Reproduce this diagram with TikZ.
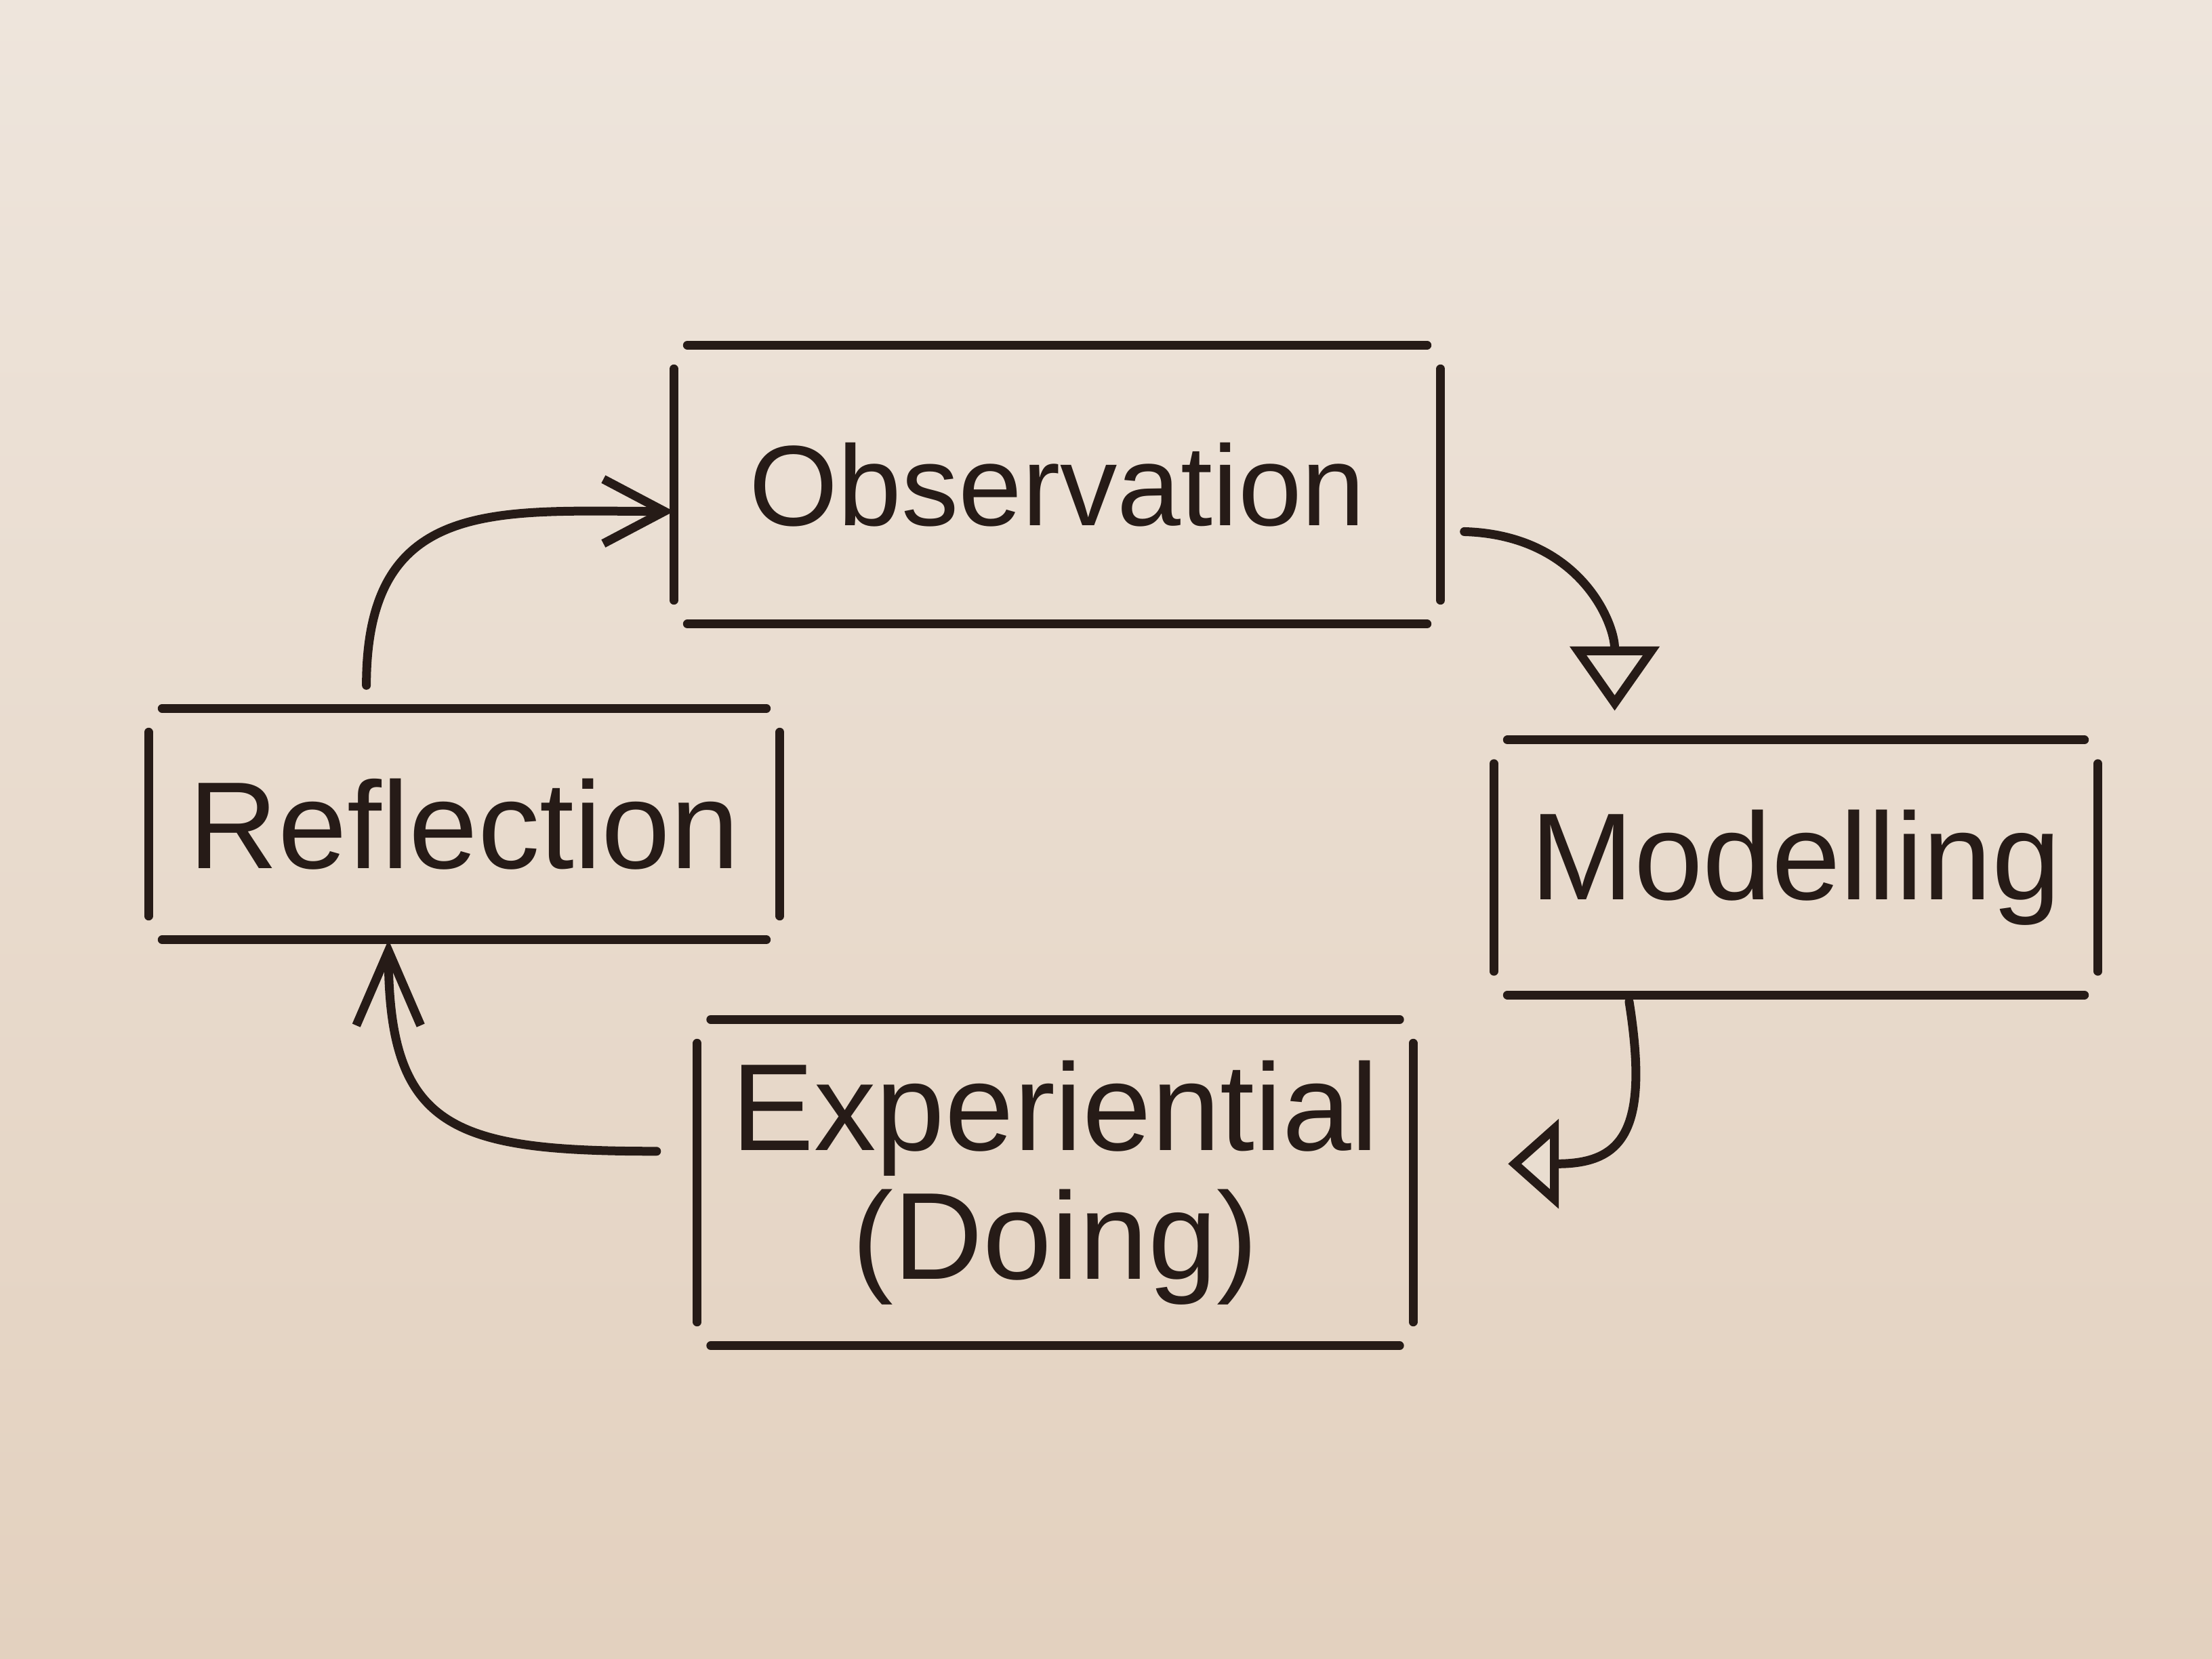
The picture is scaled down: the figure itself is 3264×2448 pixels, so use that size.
\documentclass[tikz,border=0pt]{standalone}
\usepackage{fontspec}
\setmainfont{Liberation Sans}
\usetikzlibrary{arrows.meta,calc}
\definecolor{paper}{HTML}{E9DDD0}
\definecolor{papertop}{HTML}{EEE5DC}
\definecolor{paperbot}{HTML}{E3D1BF}
\definecolor{ink}{HTML}{261B17}
\tikzset{
  pen/.style={line width=1.3mm, draw=ink, line cap=round, line join=round},
  boxnode/.style={inner sep=0pt, align=center, text=ink,
    font=\fontsize{52pt}{54pt}\selectfont},
  barb/.style={-{Straight Barb[length=#1, width=9.5mm, line width=1.3mm]}},
  tri/.style={-{Triangle[open, length=#1, width=13mm, line width=1.3mm, fill=paper]}}
}
\newcommand\handbox[1]{%
  \draw[pen] ([xshift=2mm]#1.north west) -- ([xshift=-2mm]#1.north east);
  \draw[pen] ([xshift=2mm]#1.south west) -- ([xshift=-2mm]#1.south east);
  \draw[pen] ([yshift=-3.5mm]#1.north west) -- ([yshift=3.5mm]#1.south west);
  \draw[pen] ([yshift=-3.5mm]#1.north east) -- ([yshift=3.5mm]#1.south east);
}
\begin{document}
\begin{tikzpicture}[x=0.1mm, y=-0.1mm]
  \shade[top color=papertop, bottom color=paperbot] (0,0) rectangle (3264,2448);
  \useasboundingbox (0,0) rectangle (3264,2448);

  \node[boxnode, minimum width=113mm, minimum height=41mm,
        font=\fontsize{48pt}{54pt}\selectfont] (obs) at (1560,715) {Observation};
  \node[boxnode, minimum width=93mm, minimum height=34mm] (ref) at (685,1216) {Reflection};
  \node[boxnode, minimum width=89mm, minimum height=37.5mm] (mod) at (2650,1280) {Modelling};
  \node[boxnode, minimum width=105.5mm, minimum height=48mm] (exp) at (1557,1745) {Experiential\\(Doing)};

  \handbox{obs}
  \handbox{ref}
  \handbox{mod}
  \handbox{exp}

  % connector end points
  \coordinate (a1s) at ($(ref.north west)!0.345!(ref.north east)+(0,-34)$);
  \coordinate (a1e) at (obs.184);
  \coordinate (a2s) at ($(obs.-7)+(35,0)$);
  \coordinate (a2e) at ($(mod.north west)!0.2!(mod.north east)+(0,-43)$);
  \coordinate (a3s) at ($(mod.south west)!0.224!(mod.south east)+(0,10)$);
  \coordinate (a3e) at ($(exp.3)+(140,0)$);
  \coordinate (a4s) at ($(exp.175)+(-60,0)$);
  \coordinate (a4e) at ($(ref.south west)!0.38!(ref.south east)$);

  \draw[pen, barb=9mm] (a1s) .. controls +(0,-280) and +(-260,0) .. (a1e);
  \draw[pen, tri=9.5mm] (a2s) .. controls +(170,5) and +(0,-130) .. (a2e);
  \draw[pen, tri=7.5mm] (a3s) .. controls +(30,190) and +(170,0) .. (a3e);
  \draw[pen, barb=11mm] (a4s) .. controls +(-300,0) and +(0,280) .. (a4e);
\end{tikzpicture}
\end{document}
